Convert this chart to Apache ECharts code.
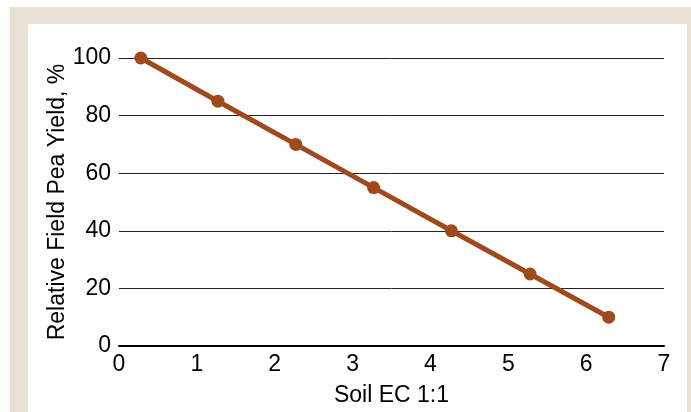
<!DOCTYPE html>
<html><head><meta charset="utf-8">
<script src="https://cdn.jsdelivr.net/npm/echarts@6/dist/echarts.min.js"></script>
<style>html,body{margin:0;padding:0;background:#fff}#c{width:691px;height:412px}</style>
</head><body><div id="c"></div>
<script>
const soilEC = [0.28, 1.27, 2.27, 3.27, 4.27, 5.28, 6.29];
const yieldPct = [100, 85, 70, 55, 40, 25, 10];
const xTicks = [0, 1, 2, 3, 4, 5, 6, 7];
const yTicks = [0, 20, 40, 60, 80, 100];
const font = 'Liberation Sans, Arial, Helvetica, sans-serif';
const chart = echarts.init(document.getElementById('c'));
chart.setOption({
  animation: false,
  backgroundColor: '#fff',
  graphic: [
    {type:'rect', z:-10, shape:{x:10,y:7,width:681,height:405}, style:{fill:'#e8e2d6'}},
    {type:'rect', z:-9, shape:{x:28,y:24,width:659,height:388}, style:{fill:'#fff'}}
  ],
  grid: {left:119, right:27, top:58, bottom:66, outerBoundsMode:'none', containLabel:false},
  xAxis: {
    type:'value', min:xTicks[0], max:xTicks[xTicks.length-1], interval:1,
    name:'Soil EC 1:1', nameLocation:'middle', nameGap:38, nameMoveOverlap:false,
    nameTextStyle:{fontFamily:font, fontSize:23, color:'#000'},
    axisLine:{show:true, onZero:false, lineStyle:{color:'#000', width:2}},
    axisTick:{show:false}, splitLine:{show:false},
    axisLabel:{fontFamily:font, fontSize:23, color:'#000', margin:7}
  },
  yAxis: {
    type:'value', min:yTicks[0], max:yTicks[yTicks.length-1], interval:20,
    name:'Relative Field Pea Yield, %', nameLocation:'middle', nameGap:50, nameMoveOverlap:false,
    nameTextStyle:{fontFamily:font, fontSize:23, color:'#000'},
    axisLine:{show:false}, axisTick:{show:false},
    splitLine:{show:true, lineStyle:{color:'#222', width:1}},
    axisLabel:{fontFamily:font, fontSize:23, color:'#000', margin:8}
  },
  series: [{
    type:'line', data: soilEC.map((x,i)=>[x, yieldPct[i]]),
    lineStyle:{color:'#a0491c', width:5},
    itemStyle:{color:'#a0491c'},
    symbol:'circle', symbolSize:13
  }]
});
</script></body></html>
